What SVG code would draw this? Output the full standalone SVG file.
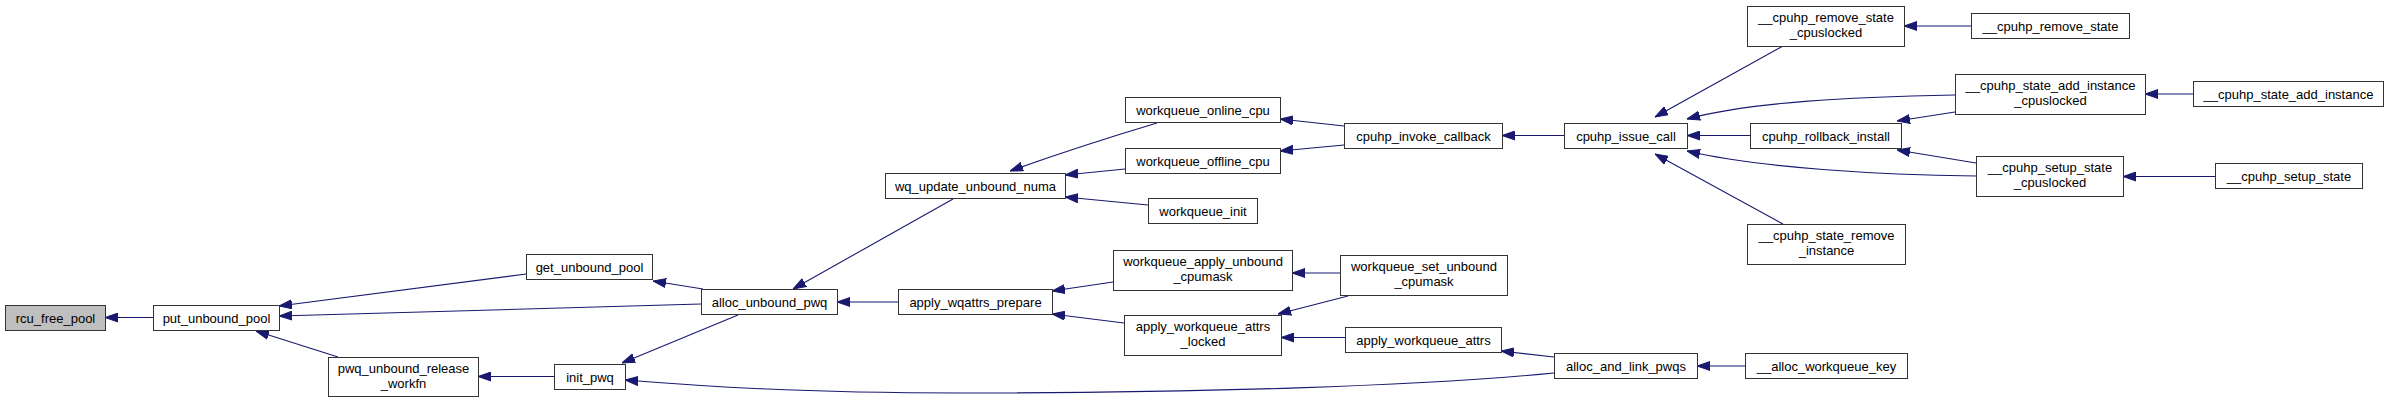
<svg xmlns="http://www.w3.org/2000/svg" width="2389" height="403" viewBox="0 0 2389 403">
<style>
.n rect{fill:#ffffff;stroke:#333333;stroke-width:1}
.root rect{fill:#bfbfbf}
.n text{font-family:"Liberation Sans",Arial,Helvetica,sans-serif;font-size:13px;fill:#000000;text-anchor:middle}
.e path{fill:none;stroke:#191970;stroke-width:1.1;marker-end:url(#ah)}
</style>
<defs>
<marker id="ah" markerWidth="13" markerHeight="10" refX="13" refY="5" orient="auto" markerUnits="userSpaceOnUse">
<path d="M0,0.5 L13,5 L0,9.5 z" fill="#191970" stroke="#191970" stroke-width="1"/>
</marker>
</defs>
<rect width="2389" height="403" fill="#ffffff"/>
<g id="connectors" class="e">
<path d="M153,317.5 L105,317.5"/>
<path d="M526,274 L279,306"/>
<path d="M701,304 L279,316"/>
<path d="M338,357 L256,331"/>
<path d="M554,376.5 L478,376.5"/>
<path d="M703,289 L653,281"/>
<path d="M738,315 L622,363"/>
<path d="M953,199 L793,289"/>
<path d="M898,302 L837,302"/>
<path d="M1554,373 C1420,386 1200,393 960,393 C800,393 700,386 625,380"/>
<path d="M1157,123 Q1080,146 1010,171"/>
<path d="M1125,169 L1065,175"/>
<path d="M1148,205 L1065,197"/>
<path d="M1344,126 L1280,119"/>
<path d="M1344,145 L1280,151"/>
<path d="M1113,282 L1052,291"/>
<path d="M1124,323 L1052,314"/>
<path d="M1340,273 L1292,273"/>
<path d="M1348,296 L1278,314"/>
<path d="M1345,337.5 L1281,337.5"/>
<path d="M1554,357 L1501,351"/>
<path d="M1745,366 L1697,366"/>
<path d="M1564,135.5 L1502,135.5"/>
<path d="M1783,46 L1655,117"/>
<path d="M1955,95 C1850,97 1750,102 1687,119"/>
<path d="M1750,135.5 L1687,135.5"/>
<path d="M1955,112 L1897,121"/>
<path d="M1976,163 L1897,150"/>
<path d="M1976,176 C1880,175 1760,168 1687,151"/>
<path d="M1783,224 L1655,154"/>
<path d="M1971,26 L1904,26"/>
<path d="M2193,94 L2145,94"/>
<path d="M2215,176.5 L2123,176.5"/>
</g>
<g id="rcu_free_pool" class="n root"><rect x="5.5" y="305.5" width="100" height="25"/><text x="55.5" y="322.5">rcu_free_pool</text></g>
<g id="put_unbound_pool" class="n"><rect x="153.5" y="305.5" width="126" height="25"/><text x="216.5" y="322.5">put_unbound_pool</text></g>
<g id="get_unbound_pool" class="n"><rect x="526.5" y="254.5" width="126" height="25"/><text x="589.5" y="271.5">get_unbound_pool</text></g>
<g id="pwq_unbound_release_workfn" class="n"><rect x="328.5" y="357.5" width="150" height="39"/><text x="403.5" y="372.5">pwq_unbound_release</text><text x="403.5" y="388">_workfn</text></g>
<g id="init_pwq" class="n"><rect x="554.5" y="364.5" width="71" height="25"/><text x="590" y="381.5">init_pwq</text></g>
<g id="alloc_unbound_pwq" class="n"><rect x="701.5" y="289.5" width="136" height="25"/><text x="769.5" y="306.5">alloc_unbound_pwq</text></g>
<g id="wq_update_unbound_numa" class="n"><rect x="885.5" y="173.5" width="180" height="25"/><text x="975.5" y="190.5">wq_update_unbound_numa</text></g>
<g id="apply_wqattrs_prepare" class="n"><rect x="898.5" y="289.5" width="154" height="25"/><text x="975.5" y="306.5">apply_wqattrs_prepare</text></g>
<g id="workqueue_online_cpu" class="n"><rect x="1125.5" y="97.5" width="155" height="25"/><text x="1203" y="114.5">workqueue_online_cpu</text></g>
<g id="workqueue_offline_cpu" class="n"><rect x="1125.5" y="148.5" width="155" height="25"/><text x="1203" y="165.5">workqueue_offline_cpu</text></g>
<g id="workqueue_init" class="n"><rect x="1148.5" y="198.5" width="109" height="25"/><text x="1203" y="215.5">workqueue_init</text></g>
<g id="workqueue_apply_unbound_cpumask" class="n"><rect x="1113.5" y="250.5" width="179" height="40"/><text x="1203" y="265.5">workqueue_apply_unbound</text><text x="1203" y="281">_cpumask</text></g>
<g id="apply_workqueue_attrs_locked" class="n"><rect x="1124.5" y="315.5" width="157" height="40"/><text x="1203" y="330.5">apply_workqueue_attrs</text><text x="1203" y="346">_locked</text></g>
<g id="cpuhp_invoke_callback" class="n"><rect x="1344.5" y="123.5" width="158" height="25"/><text x="1423.5" y="140.5">cpuhp_invoke_callback</text></g>
<g id="workqueue_set_unbound_cpumask" class="n"><rect x="1340.5" y="255.5" width="167" height="40"/><text x="1424" y="270.5">workqueue_set_unbound</text><text x="1424" y="286">_cpumask</text></g>
<g id="apply_workqueue_attrs" class="n"><rect x="1345.5" y="327.5" width="156" height="25"/><text x="1423.5" y="344.5">apply_workqueue_attrs</text></g>
<g id="alloc_and_link_pwqs" class="n"><rect x="1554.5" y="353.5" width="143" height="25"/><text x="1626" y="370.5">alloc_and_link_pwqs</text></g>
<g id="__alloc_workqueue_key" class="n"><rect x="1745.5" y="353.5" width="162" height="25"/><text x="1826.5" y="370.5">__alloc_workqueue_key</text></g>
<g id="cpuhp_issue_call" class="n"><rect x="1564.5" y="123.5" width="123" height="25"/><text x="1626" y="140.5">cpuhp_issue_call</text></g>
<g id="__cpuhp_remove_state_cpuslocked" class="n"><rect x="1747.5" y="6.5" width="157" height="40"/><text x="1826" y="21.5">__cpuhp_remove_state</text><text x="1826" y="37">_cpuslocked</text></g>
<g id="cpuhp_rollback_install" class="n"><rect x="1750.5" y="123.5" width="151" height="25"/><text x="1826" y="140.5">cpuhp_rollback_install</text></g>
<g id="__cpuhp_state_remove_instance" class="n"><rect x="1747.5" y="224.5" width="158" height="40"/><text x="1826.5" y="239.5">__cpuhp_state_remove</text><text x="1826.5" y="255">_instance</text></g>
<g id="__cpuhp_remove_state" class="n"><rect x="1971.5" y="13.5" width="158" height="25"/><text x="2050.5" y="30.5">__cpuhp_remove_state</text></g>
<g id="__cpuhp_state_add_instance_cpuslocked" class="n"><rect x="1955.5" y="74.5" width="190" height="40"/><text x="2050.5" y="89.5">__cpuhp_state_add_instance</text><text x="2050.5" y="105">_cpuslocked</text></g>
<g id="__cpuhp_setup_state_cpuslocked" class="n"><rect x="1976.5" y="156.5" width="147" height="40"/><text x="2050" y="171.5">__cpuhp_setup_state</text><text x="2050" y="187">_cpuslocked</text></g>
<g id="__cpuhp_state_add_instance" class="n"><rect x="2193.5" y="81.5" width="190" height="25"/><text x="2288.5" y="98.5">__cpuhp_state_add_instance</text></g>
<g id="__cpuhp_setup_state" class="n"><rect x="2215.5" y="163.5" width="147" height="25"/><text x="2289" y="180.5">__cpuhp_setup_state</text></g>
</svg>
